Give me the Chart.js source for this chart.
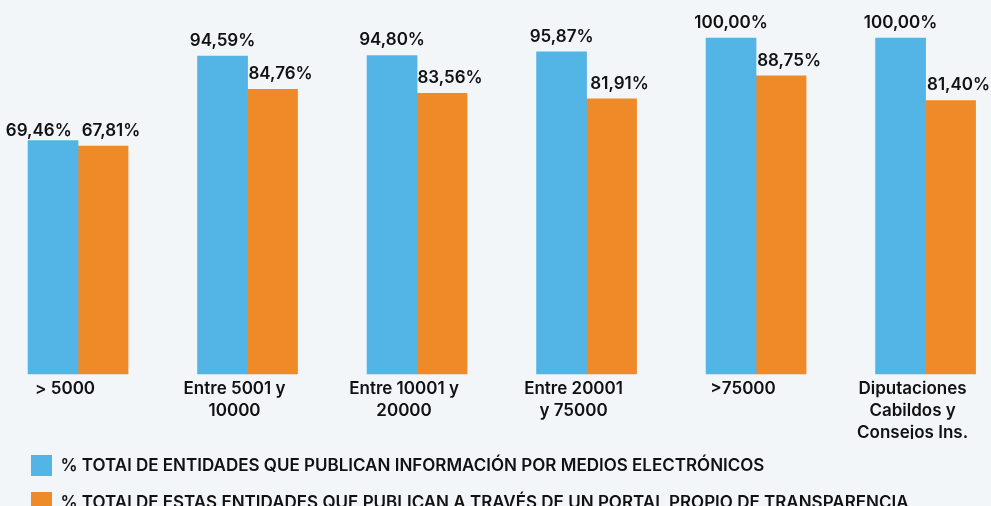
<!DOCTYPE html>
<html>
<head>
<meta charset="utf-8">
<script src="https://cdn.jsdelivr.net/npm/chart.js@4.4.1/dist/chart.umd.min.js"></script>
<style>
  html, body { margin: 0; padding: 0; background: #f2f6f9; }
  #wrap { width: 991px; height: 506px; position: relative; }
</style>
</head>
<body>
<div id="wrap"><canvas id="myChart"></canvas></div>
<script>
// data
const categories = [
  ['> 5000'],
  ['Entre 5001 y', '10000'],
  ['Entre 10001 y', '20000'],
  ['Entre 20001', 'y 75000'],
  ['>75000'],
  ['Diputaciones', 'Cabildos y', 'Consejos Ins.']
];
const electronicos = [69.46, 94.59, 94.80, 95.87, 100.00, 100.00];
const portalPropio = [67.81, 84.76, 83.56, 81.91, 88.75, 81.40];
const seriesNames = [
  '% TOTAl DE ENTIDADES QUE PUBLICAN INFORMACIÓN POR MEDIOS ELECTRÓNICOS',
  '% TOTAl DE ESTAS ENTIDADES QUE PUBLICAN A TRAVÉS DE UN PORTAL PROPIO DE TRANSPARENCIA'
];

function fmt(v) {
  return v.toFixed(2).replace('.', ',') + '%';
}

// value labels over the bars
const valueLabels = {
  id: 'valueLabels',
  afterDatasetsDraw(chart) {
    const ctx = chart.ctx;
    ctx.save();
    ctx.font = '600 17px Inter';
    ctx.fillStyle = '#111111';
    ctx.textAlign = 'center';
    ctx.textBaseline = 'alphabetic';
    const blue = chart.getDatasetMeta(0).data;
    const orange = chart.getDatasetMeta(1).data;
    blue.forEach((b, j) => {
      const o = orange[j];
      const tb = fmt(chart.data.datasets[0].data[j].y);
      const to = fmt(chart.data.datasets[1].data[j].y);
      let yb = b.y - 10, yo = o.y - 10;
      let xb = b.x, xo = o.x + 8;
      const wb = ctx.measureText(tb).width, wo = ctx.measureText(to).width;
      // push apart labels that would collide
      if (Math.abs(yb - yo) < 18) {
        const overlap = (xb + wb / 2) - (xo - wo / 2) + 10;
        if (overlap > 0) xb -= overlap;
        yb = yo = Math.max(yb, yo);
      }
      ctx.fillText(tb, xb, yb);
      ctx.fillText(to, xo, yo);
    });
    ctx.restore();
  }
};

var ctx = document.getElementById('myChart').getContext('2d');
var myChart = new Chart(ctx, {
  type: 'bar',
  data: {
    datasets: [{
      label: seriesNames[0],
      data: electronicos.map((v, i) => ({ x: i, y: v })),
      backgroundColor: '#53b4e6',
      borderWidth: 0,
      barThickness: 50,
      clip: false
    }, {
      label: seriesNames[1],
      data: portalPropio.map((v, i) => ({ x: i, y: v })),
      backgroundColor: '#ef8a29',
      borderWidth: 0,
      barThickness: 50,
      clip: false
    }]
  },
  options: {
    responsive: true,
    maintainAspectRatio: false,
    animation: false,
    layout: { padding: { left: 15, right: 0, top: 38, bottom: -17 } },
    plugins: {
      tooltip: { enabled: false },
      legend: {
        position: 'bottom',
        align: 'start',
        labels: {
          boxWidth: 21,
          boxHeight: 21,
          padding: 16,
          color: '#111111',
          font: { family: 'Inter', size: 17, weight: '600' }
        }
      }
    },
    scales: {
      x: {
        type: 'linear',
        offset: false,
        min: -0.372,
        max: 5.386,
        grid: { display: false },
        border: { display: false },
        afterFit: function (scale) { scale.height = 65; },
        ticks: {
          stepSize: 1,
          includeBounds: false,
          autoSkip: false,
          maxRotation: 0,
          padding: -4,
          labelOffset: -13,
          color: '#111111',
          font: { family: 'Inter', size: 17, weight: '600', lineHeight: '22px' },
          callback: function (value) {
            return Number.isInteger(value) ? categories[value] : '';
          }
        }
      },
      y: {
        display: false,
        min: 0,
        max: 100
      }
    }
  },
  plugins: [valueLabels]
});
</script>
</body>
</html>
